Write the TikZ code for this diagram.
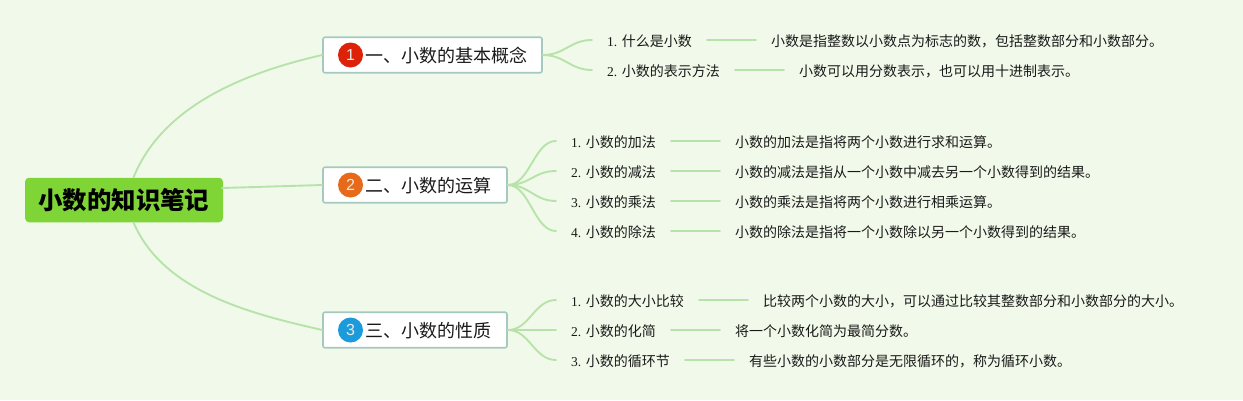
\documentclass[tikz,border=0pt]{standalone}
\usepackage{fontspec}
\setmainfont{Liberation Serif}
\newfontfamily\cjk{Noto Sans CJK SC}
\newfontfamily\iconfont{Liberation Sans}
\definecolor{bgc}{HTML}{F1FAEA}
\definecolor{linec}{HTML}{B7E3AA}
\definecolor{rootc}{HTML}{7FD535}
\definecolor{boxc}{HTML}{A6C9BF}
\definecolor{txt}{HTML}{1A1A1A}
\definecolor{redc}{HTML}{DD2208}
\definecolor{orangec}{HTML}{E66A1A}
\definecolor{bluec}{HTML}{1B9BDC}
\tikzset{
 conn/.style={draw=linec,line width=1.9pt,line cap=round},
 rootbox/.style={draw=none,fill=rootc,rounded corners=4pt,minimum width=198pt,minimum height=44.5pt,inner sep=0pt,font=\cjk\bfseries\fontsize{24.4}{28}\selectfont,text=black},
 branchbox/.style={draw=boxc,line width=1.6pt,fill=white,rounded corners=2pt,minimum height=35.5pt,inner sep=0pt},
 branchtext/.style={anchor=west,inner sep=0pt,font=\cjk\fontsize{18}{20}\selectfont,text=txt},
 icon/.style={circle,minimum size=25pt,inner sep=0pt,font=\iconfont\fontsize{16}{18}\selectfont,text=white!92!black},
 leaf/.style={anchor=west,inner xsep=15pt,inner ysep=0pt,text height=12pt,text depth=0pt,font=\fontsize{13.5}{16}\selectfont,text=txt},
}
\newcommand{\zh}[1]{{\cjk\fontsize{14}{16}\selectfont #1}}
\begin{document}
\begin{tikzpicture}[x=1pt,y=-1pt]
\useasboundingbox[fill=bgc] (0,0) rectangle (1243,400);
\node[rootbox] (root) at (124,200) {小数的知识笔记};
\node[branchbox,minimum width=219pt] (b1) at (432.5,55) {};
\node[branchbox,minimum width=184pt] (b2) at (415,185) {};
\node[branchbox,minimum width=184pt] (b3) at (415,330) {};
\node[icon,fill=redc] (i1) at (350.5,55) {1};
\node[icon,fill=orangec] (i2) at (350.5,185) {2};
\node[icon,fill=bluec] (i3) at (350.5,330) {3};
\node[branchtext] (t1) at (365,55.5) {一、小数的基本概念};
\node[branchtext] (t2) at (365,185.5) {二、小数的运算};
\node[branchtext] (t3) at (365,330.5) {三、小数的性质};
% leaves
\node[leaf] (l11) at (592,40) {1. \zh{什么是小数}};
\node[leaf] (d11) at (756,40) {\zh{小数是指整数以小数点为标志的数，包括整数部分和小数部分。}};
\node[leaf] (l12) at (592,70) {2. \zh{小数的表示方法}};
\node[leaf] (d12) at (784,70) {\zh{小数可以用分数表示，也可以用十进制表示。}};
\node[leaf] (l21) at (556,141) {1. \zh{小数的加法}};
\node[leaf] (d21) at (720,141) {\zh{小数的加法是指将两个小数进行求和运算。}};
\node[leaf] (l22) at (556,171) {2. \zh{小数的减法}};
\node[leaf] (d22) at (720,171) {\zh{小数的减法是指从一个小数中减去另一个小数得到的结果。}};
\node[leaf] (l23) at (556,201) {3. \zh{小数的乘法}};
\node[leaf] (d23) at (720,201) {\zh{小数的乘法是指将两个小数进行相乘运算。}};
\node[leaf] (l24) at (556,231) {4. \zh{小数的除法}};
\node[leaf] (d24) at (720,231) {\zh{小数的除法是指将一个小数除以另一个小数得到的结果。}};
\node[leaf] (l31) at (556,300) {1. \zh{小数的大小比较}};
\node[leaf] (d31) at (748,300) {\zh{比较两个小数的大小，可以通过比较其整数部分和小数部分的大小。}};
\node[leaf] (l32) at (556,330) {2. \zh{小数的化简}};
\node[leaf] (d32) at (720,330) {\zh{将一个小数化简为最简分数。}};
\node[leaf] (l33) at (556,360) {3. \zh{小数的循环节}};
\node[leaf] (d33) at (734,360) {\zh{有些小数的小数部分是无限循环的，称为循环小数。}};
% connectors
\draw[conn] ([xshift=9.5pt]root.north) .. controls +(30,-75) and +(-70,16) .. (b1.west);
\draw[conn] ([xshift=98pt,yshift=12pt]root.center) -- (b2.west);
\draw[conn] ([xshift=9.5pt]root.south) .. controls +(30,70) and +(-70,-16) .. (b3.west);
\foreach \a/\b in {b1/l11,b1/l12,b2/l21,b2/l22,b2/l23,b2/l24,b3/l31,b3/l32,b3/l33}
  \draw[conn] (\a.east) .. controls +(22,0) and +(-22,0) .. (\b.west);
\foreach \a/\b in {l11/d11,l12/d12,l21/d21,l22/d22,l23/d23,l24/d24,l31/d31,l32/d32,l33/d33}
  \draw[conn] (\a.east) -- (\b.west);
\end{tikzpicture}
\end{document}
